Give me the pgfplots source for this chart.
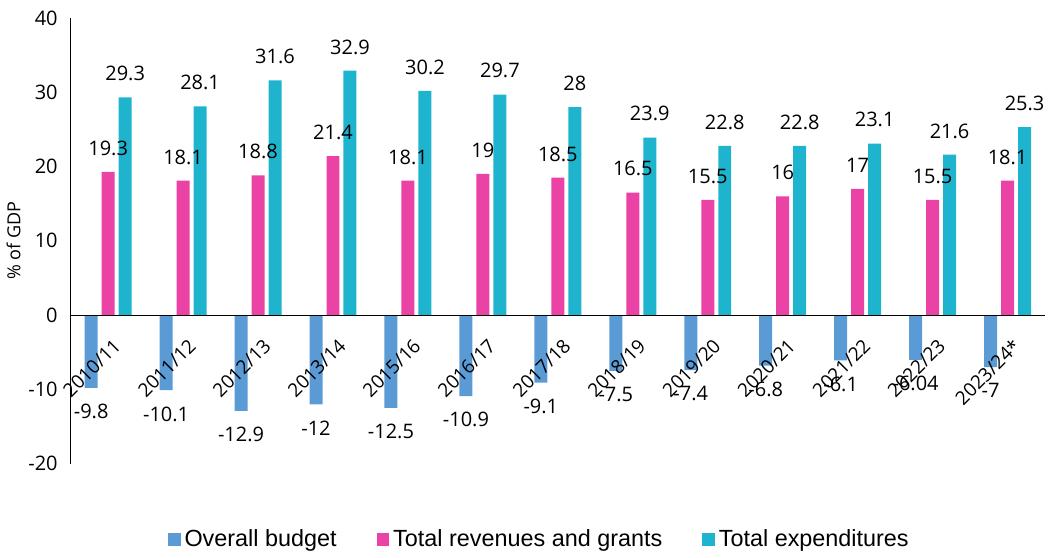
\documentclass[border=0pt]{standalone}
\usepackage{pgfplots}
\pgfplotsset{compat=1.18}
\usepackage{fontspec}
\setmainfont{Open Sans}
\newfontfamily\legendfont{Liberation Sans}

\definecolor{budget}{HTML}{5B9BD5}
\definecolor{revenue}{HTML}{EB42A6}
\definecolor{expend}{HTML}{1FB4CE}

\begin{document}
\begin{tikzpicture}
\begin{axis}[
    scale only axis,
    width=487.5pt, height=223pt,
    axis on top,
    ybar=2pt,
    bar width=6.5pt,
    xmin=-0.5, xmax=12.5,
    ymin=-20, ymax=40,
    ytick={-20,-10,0,10,20,30,40},
    xtick=data,
    xticklabels={2010/11,2011/12,2012/13,2013/14,2015/16,2016/17,2017/18,2018/19,2019/20,2020/21,2021/22,2022/23,2023/24*},
    axis x line*=middle,
    axis y line*=left,
    major tick length=0pt,
    tick label style={font=\fontsize{10}{12}\selectfont},
    /pgf/number format/assume math mode=true,
    xticklabel style={font=\fontsize{9.5}{11}\selectfont, rotate=45, anchor=east, yshift=-13pt, xshift=-3pt},
    yticklabel style={xshift=-3pt},
    ylabel={\% of GDP},
    ylabel style={font=\fontsize{9}{11}\selectfont, yshift=-3pt},
    nodes near coords={\pgfmathprintnumber[assume math mode=true]{\pgfplotspointmeta}},
    every node near coord/.append style={font=\fontsize{10}{12}\selectfont, inner ysep=8pt},
    axis line style={black, line width=0.6pt},
    legend style={at={(0.482,-0.128)}, anchor=north, draw=none, legend columns=3,
        font=\legendfont\fontsize{11.7}{14}\selectfont,
        /tikz/every even column/.append style={column sep=18pt}},
    legend image code/.code={\fill[#1] (0pt,-3.2pt) rectangle (6.3pt,3.2pt);},
]
\addplot[fill=budget, draw=none] coordinates {
(0,-9.8)(1,-10.1)(2,-12.9)(3,-12)(4,-12.5)(5,-10.9)(6,-9.1)(7,-7.5)(8,-7.4)(9,-6.8)(10,-6.1)(11,-6.04)(12,-7)};
\addplot[fill=revenue, draw=none] coordinates {
(0,19.3)(1,18.1)(2,18.8)(3,21.4)(4,18.1)(5,19)(6,18.5)(7,16.5)(8,15.5)(9,16)(10,17)(11,15.5)(12,18.1)};
\addplot[fill=expend, draw=none] coordinates {
(0,29.3)(1,28.1)(2,31.6)(3,32.9)(4,30.2)(5,29.7)(6,28)(7,23.9)(8,22.8)(9,22.8)(10,23.1)(11,21.6)(12,25.3)};
\legend{Overall budget, Total revenues and grants, Total expenditures}
\end{axis}
% a little white space above the top tick label
\path (current axis.north west) ++(0,9pt);
\end{tikzpicture}
\end{document}
